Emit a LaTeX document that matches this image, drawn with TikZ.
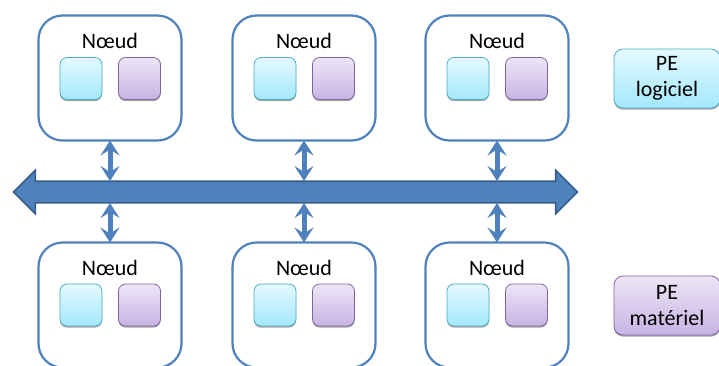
\documentclass[tikz,border=0pt]{standalone}
\usepackage{fontspec}
\setmainfont{Carlito}
\usetikzlibrary{shapes.arrows,shadows,arrows.meta}
\definecolor{busblue}{HTML}{4F81BD}
\definecolor{busdark}{HTML}{385D8A}
\definecolor{cyanline}{HTML}{4BACC6}
\definecolor{cyantop}{HTML}{E4F9FF}
\definecolor{cyanbot}{HTML}{A3E8FC}
\definecolor{purpline}{HTML}{8064A2}
\definecolor{purptop}{HTML}{EDE6F6}
\definecolor{purpbot}{HTML}{C8B3E3}
\tikzset{
  x=1pt,y=-1pt,
  nodebox/.style={draw=busblue,line width=2.2pt,fill=white,rounded corners=24pt,minimum width=143pt,minimum height=125pt,inner sep=0pt,outer sep=0pt},
  softshadow/.style={drop shadow={shadow xshift=0pt,shadow yshift=-1.6pt,opacity=.35,fill=black}},
  cyanbox/.style={draw=cyanline,line width=.8pt,top color=cyantop,bottom color=cyanbot,softshadow,inner sep=0pt,outer sep=0pt},
  purpbox/.style={draw=purpline,line width=.8pt,top color=purptop,bottom color=purpbot,softshadow,inner sep=0pt,outer sep=0pt},
  smallbox/.style={rounded corners=7pt,minimum width=42pt,minimum height=42pt},
  legendbox/.style={rounded corners=9pt,minimum width=106pt,minimum height=59pt,align=center,font=\fontsize{22}{25.5}\selectfont},
  nodelabel/.style={font=\fontsize{22}{26}\selectfont,text=black,inner sep=0pt},
  busarrow/.style={double arrow,draw=busdark,line width=1.6pt,fill=busblue,inner sep=0pt,outer sep=0pt,text height=10pt,text depth=10pt,text width=0pt,minimum height=564pt,double arrow head extend=11pt,double arrow head indent=0pt},
  link/.style={draw=busblue,line width=5pt,{Stealth[length=15pt,width=19pt,inset=6pt]}-{Stealth[length=15pt,width=19pt,inset=6pt]}}
}
\begin{document}
\begin{tikzpicture}
\clip (0,0) rectangle (719,365);
\useasboundingbox (0,0) rectangle (719,365);
\fill[white] (0,0) rectangle (719,365);
\node[busarrow] (bus) at (295.5,192) {};
\foreach \n/\cx in {1/110,2/304,3/497}{
  \node[nodebox] (top\n) at (\cx,78) {};
  \node[nodelabel] (toplabel\n) at (\cx,41) {Nœud};
  \node[cyanbox,smallbox] (topsoft\n) at (\cx-29,78.5) {};
  \node[purpbox,smallbox] (tophard\n) at (\cx+29.5,78.5) {};
  \coordinate (busup\n) at (\cx,181);
  \draw[link] (top\n.south) -- (busup\n);
  \node[nodebox] (bot\n) at (\cx,305) {};
  \node[nodelabel] (botlabel\n) at (\cx,268) {Nœud};
  \node[cyanbox,smallbox] (botsoft\n) at (\cx-29,305) {};
  \node[purpbox,smallbox] (bothard\n) at (\cx+29.5,305) {};
  \coordinate (busdown\n) at (\cx,203);
  \draw[link] (busdown\n) -- (bot\n.north);
}
\node[cyanbox,legendbox] (legsoft) at (667,78.5) {PE\\logiciel};
\node[purpbox,legendbox] (leghard) at (667,305.5) {PE\\matériel};
\end{tikzpicture}
\end{document}
